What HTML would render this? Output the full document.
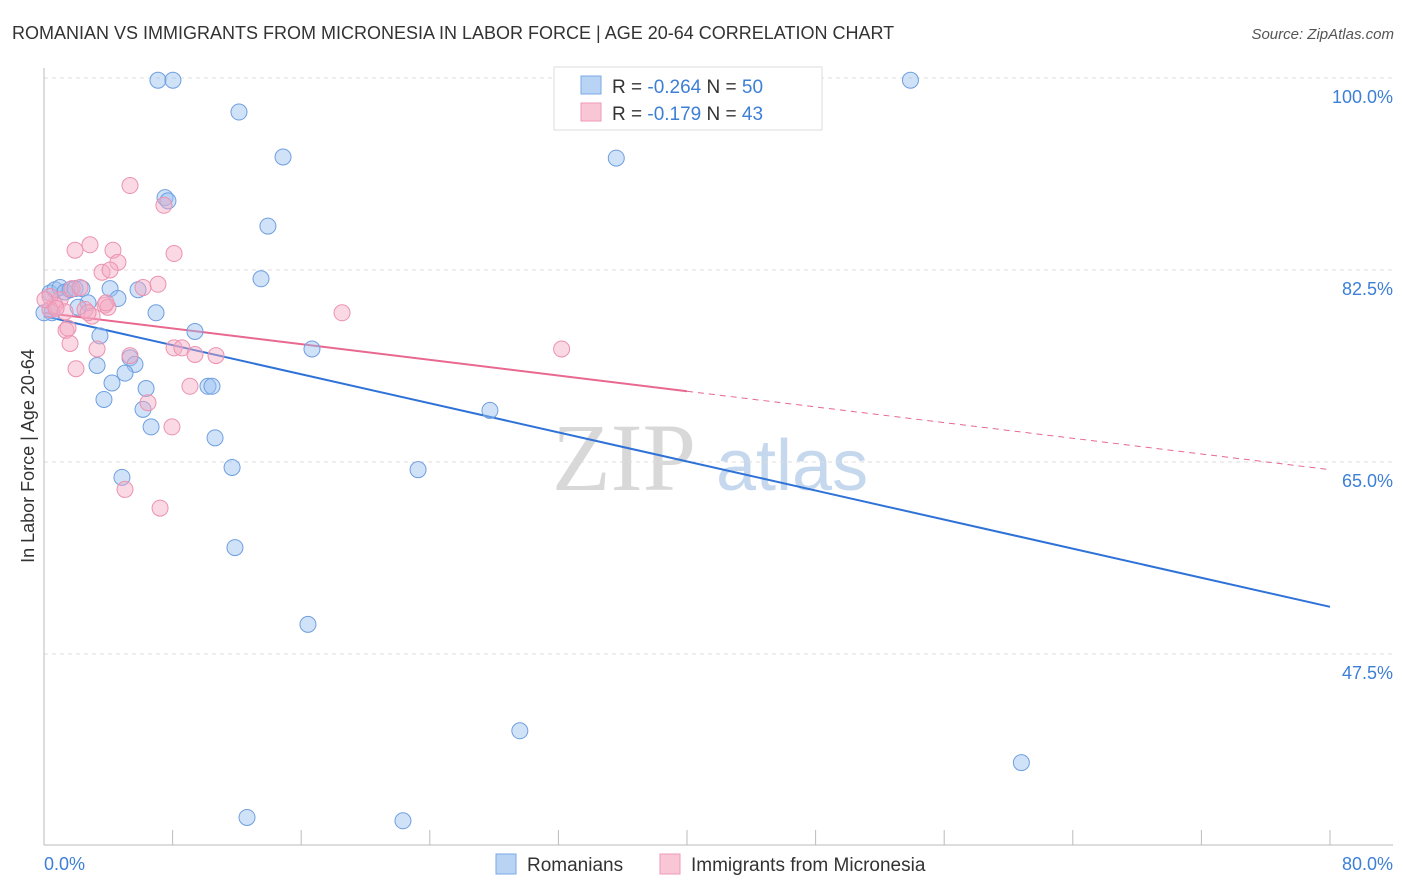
<!DOCTYPE html>
<html><head><meta charset="utf-8">
<style>
body{margin:0;background:#fff;font-family:"Liberation Sans",sans-serif;}
svg{display:block}
</style></head>
<body>
<svg id="chart" width="1406" height="892" xmlns="http://www.w3.org/2000/svg">
<text x="12" y="39" font-size="18" fill="#333">ROMANIAN VS IMMIGRANTS FROM MICRONESIA IN LABOR FORCE | AGE 20-64 CORRELATION CHART</text>
<text x="1394" y="39" font-size="15" fill="#555" font-style="italic" text-anchor="end">Source: ZipAtlas.com</text>
<g>
<text x="552" y="490" font-size="96" font-family="Liberation Serif,serif" fill="#d8d8d8">ZIP</text>
<text x="716" y="490" font-size="72" fill="#c5d8ee">atlas</text>
</g>
<g id="grid"></g>
<g id="axes"></g>
<g id="lines"></g>
<g id="points"></g>
<text x="34" y="456" font-size="18" fill="#333" transform="rotate(-90 34 456)" text-anchor="middle">In Labor Force | Age 20-64</text>
<text x="44" y="870" font-size="18" fill="#3d7fd6">0.0%</text>
<text x="1393" y="870" font-size="18" fill="#3d7fd6" text-anchor="end">80.0%</text>
<g>
<rect x="554" y="67" width="268" height="63" fill="#fff" stroke="#ddd"/>
<rect x="581" y="76" width="20" height="18" fill="#b9d3f5" stroke="#7aa8e6"/>
<rect x="581" y="103" width="20" height="18" fill="#f9c6d6" stroke="#ee9ab4"/>
<text x="612" y="93" font-size="19" fill="#333">R = <tspan fill="#3d7fd6">-0.264</tspan>   N = <tspan fill="#3d7fd6">50</tspan></text>
<text x="612" y="120" font-size="19" fill="#333">R =  <tspan fill="#3d7fd6">-0.179</tspan>   N =  <tspan fill="#3d7fd6">43</tspan></text>
</g>
<g>
<rect x="496" y="854" width="20" height="20" fill="#b9d3f5" stroke="#7aa8e6"/>
<text x="527" y="871" font-size="19" fill="#333">Romanians</text>
<rect x="660" y="854" width="20" height="20" fill="#f9c6d6" stroke="#ee9ab4"/>
<text x="691" y="871" font-size="19" fill="#333">Immigrants from Micronesia</text>
</g>
</svg>
<script>
const yTicks=[100,82.5,65,47.5];
const yTickLabels=["100.0%","82.5%","65.0%","47.5%"];
const xTicks=[0,8,16,24,32,40,48,56,64,72,80];
const blueX=[7.09,8.02,53.9,12.13,14.87,35.6,7.53,7.71,13.93,13.5,0.37,0.68,1.0,1.31,1.62,1.93,2.36,2.74,4.11,4.6,5.85,6.97,2.12,0.5,0,9.39,3.48,16.67,5.35,5.66,3.3,5.04,4.23,6.35,10.2,10.45,3.73,6.16,27.74,6.66,10.64,11.7,23.27,4.85,11.88,16.42,29.6,60.8,12.63,22.33];
const blueY=[99.8,99.8,99.8,96.9,92.8,92.7,89.1,88.8,86.5,81.7,80.4,80.7,80.9,80.5,80.7,80.8,80.8,79.5,80.8,79.9,80.7,78.6,79.1,78.6,78.6,76.9,76.5,75.3,74.5,73.9,73.8,73.1,72.2,71.7,71.9,71.9,70.7,69.8,69.7,68.2,67.2,64.5,64.3,63.6,57.2,50.2,40.5,37.6,32.6,32.3];
const pinkX=[5.35,7.46,1.93,2.86,4.29,8.09,4.6,3.61,4.11,7.09,6.16,1.74,1.0,0.68,0.37,1.31,2.55,2.99,3.79,3.98,18.54,1.37,1.62,3.3,8.09,8.58,9.39,10.7,32.2,1.99,9.08,6.47,7.96,5.04,7.22,0.37,0.06,2.24,2.74,0.75,1.49,5.35,3.86];
const pinkY=[90.2,88.4,84.3,84.8,84.3,84.0,83.2,82.3,82.5,81.2,80.9,80.8,79.8,79.3,78.9,78.7,78.9,78.3,79.3,79.1,78.6,77.0,75.8,75.3,75.4,75.4,74.8,74.7,75.3,73.5,71.9,70.4,68.2,62.5,60.8,80.1,79.8,80.9,78.6,79.0,77.2,74.7,79.5];
const blueTrend=[78.3,51.8];
const pinkTrend=[78.6,64.3];
const pinkSolidEnd=40;
const NS="http://www.w3.org/2000/svg";
const X0=44,X1=1330,Y100=78,PXPER=192/17.5;
function sx(v){return X0+v*(X1-X0)/80;}
function sy(v){return Y100+(100-v)*PXPER;}
function mk(tag,attrs,parent){const e=document.createElementNS(NS,tag);for(const k in attrs)e.setAttribute(k,attrs[k]);parent.appendChild(e);return e;}
const grid=document.getElementById('grid'),axes=document.getElementById('axes'),lines=document.getElementById('lines'),pts=document.getElementById('points');
yTicks.forEach((t,i)=>{
 const l=mk('line',{x1:X0,x2:1393,y1:sy(t),y2:sy(t),stroke:'#ddd','stroke-dasharray':'4 4'},grid);
 
 
 const tx=mk('text',{x:1393,y:sy(t)+25,'font-size':18,fill:'#3d7fd6','text-anchor':'end'},grid);
 tx.textContent=yTickLabels[i];
 
 
});
const ax=mk('line',{x1:X0,x2:1393,y1:845,y2:845,stroke:'#bbb'},axes);


const ay=mk('line',{x1:X0,x2:X0,y1:68,y2:845,stroke:'#bbb'},axes);


xTicks.forEach(t=>{
 const l=mk('line',{x1:sx(t),x2:sx(t),y1:830,y2:845,stroke:'#bbb'},axes);
 
 
});
function pinkAt(v){return pinkTrend[0]+(pinkTrend[1]-pinkTrend[0])*v/80;}
const bl=mk('line',{x1:sx(0),y1:sy(blueTrend[0]),x2:sx(80),y2:sy(blueTrend[1]),stroke:'#2e72d8','stroke-width':2},lines);


const pl=mk('line',{x1:sx(0),y1:sy(pinkTrend[0]),x2:sx(pinkSolidEnd),y2:sy(pinkAt(pinkSolidEnd)),stroke:'#e8688f','stroke-width':2},lines);


const pd=mk('line',{x1:sx(pinkSolidEnd),y1:sy(pinkAt(pinkSolidEnd)),x2:sx(80),y2:sy(pinkTrend[1]),stroke:'#e8688f','stroke-width':1,'stroke-dasharray':'6 5'},lines);


blueX.forEach((x,i)=>{
 const c=mk('circle',{cx:sx(x),cy:sy(blueY[i]),r:8,fill:'rgba(150,190,240,0.45)',stroke:'#6f9fe0','stroke-width':1},pts);
 
 
});
pinkX.forEach((x,i)=>{
 const c=mk('circle',{cx:sx(x),cy:sy(pinkY[i]),r:8,fill:'rgba(245,170,195,0.45)',stroke:'#ec92b0','stroke-width':1},pts);
 
 
});
</script>
</body></html>
